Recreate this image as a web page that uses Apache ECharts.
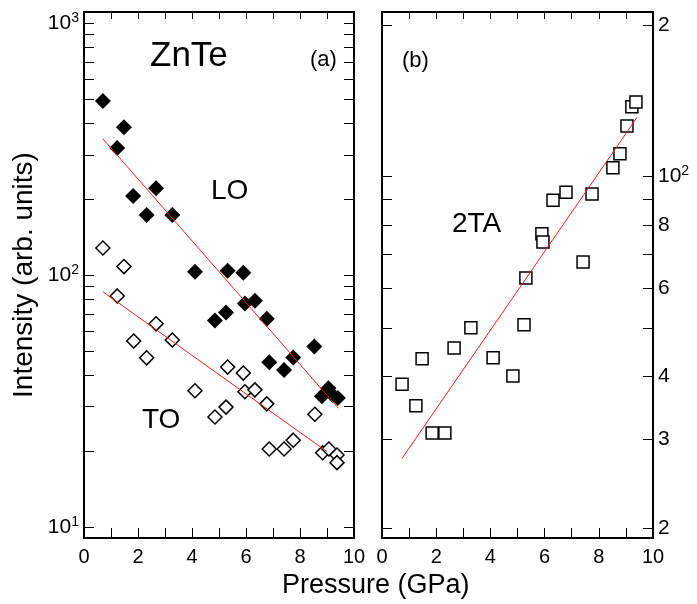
<!DOCTYPE html>
<html>
<head>
<meta charset="utf-8">
<script src="https://cdn.jsdelivr.net/npm/echarts@6/dist/echarts.min.js"></script>
<style>
html, body { margin: 0; padding: 0; background: #fff; }
#chart { width: 697px; height: 604px; }
</style>
</head>
<body>
<div id="chart"></div>
<script>
// ZnTe 拉曼强度 vs 压力
var loP = [0.70, 1.23, 1.48, 1.82, 2.32, 2.67, 3.27, 4.11, 4.85, 5.26, 5.32, 5.90, 5.96, 6.33, 6.77, 6.86, 7.41, 7.75, 8.53, 8.81, 9.05, 9.20, 9.40];
var loI = [490, 319, 386, 206, 173, 221, 173, 103, 66, 71, 104, 102, 77, 79, 67, 45, 42, 47, 52, 33, 35.5, 33.5, 32.5];

var toP = [0.70, 1.23, 1.48, 1.84, 2.32, 2.67, 3.27, 4.11, 4.85, 5.26, 5.32, 5.90, 5.96, 6.33, 6.77, 6.86, 7.41, 7.75, 8.55, 8.84, 9.07, 9.37, 9.37];
var toI = [128, 82.6, 108, 54.7, 46.9, 64, 55.2, 34.7, 27.3, 29.9, 43.1, 40.8, 34.4, 35.0, 30.8, 20.4, 20.4, 22.1, 28, 19.7, 20.4, 19.3, 18.0];

var taP = [0.74, 1.25, 1.48, 1.85, 2.32, 2.66, 3.28, 4.10, 4.83, 5.24, 5.31, 5.90, 5.94, 6.31, 6.79, 7.42, 7.75, 8.52, 8.78, 9.04, 9.22, 9.37];
var taI = [38.6, 35.0, 43.4, 30.9, 30.9, 45.6, 50.0, 43.6, 40.1, 50.7, 62.8, 76.9, 74.1, 89.7, 93, 67.6, 92.3, 104, 111, 125.9, 137.5, 140.6];

// 拟合直线
var loFitP = [0.70, 9.42];
var loFitI = [347, 29.6];
var toFitP = [0.70, 9.00];
var toFitI = [85.8, 19.9];
var taFitP = [0.74, 9.41];
var taFitI = [27.5, 131];

// 刻度
var xLabels = [0, 2, 4, 6, 8, 10];
var xTicks = [1, 2, 3, 4, 5, 6, 7, 8, 9];
var leftLabels = [10, 100, 1000];
var leftTicks = [10, 20, 30, 40, 50, 60, 70, 80, 90, 100, 200, 300, 400, 500, 600, 700, 800, 900, 1000];
var rightLabels = [20, 30, 40, 60, 80, 100, 200];
var rightTicks = [20, 30, 40, 50, 60, 70, 80, 90, 100, 200];

var FONT = 'Liberation Sans';

function pairs(xs, ys) {
    return xs.map(function (x, i) { return [x, ys[i]]; });
}

var richSup = {
    b: { fontSize: 21, fontFamily: FONT, color: '#000' },
    s: { fontSize: 14, fontFamily: FONT, color: '#000', padding: [0, 0, 10, 0] }
};

function xAxisOf(grid, top) {
    return {
        type: 'value',
        gridIndex: grid,
        position: top ? 'top' : 'bottom',
        min: 0,
        max: 10,
        splitLine: { show: false },
        axisLine: { show: true, onZero: false, lineStyle: { color: '#000', width: 2 } },
        axisTick: { show: true, inside: true, length: top ? 7 : 10, customValues: xTicks,
            lineStyle: { color: '#000', width: 1 } },
        axisLabel: { show: !top, customValues: xLabels, margin: 9, fontSize: 20, fontFamily: FONT, color: '#000' }
    };
}

function yAxisOf(grid, pos, lo, hi, ticks, labels, fmt) {
    return {
        type: 'log',
        gridIndex: grid,
        position: pos,
        min: lo,
        max: hi,
        splitLine: { show: false },
        axisLine: { show: true, onZero: false, lineStyle: { color: '#000', width: 2 } },
        axisTick: { show: true, inside: true, length: 10, customValues: ticks,
            lineStyle: { color: '#000', width: 1 } },
        axisLabel: { show: !!labels, customValues: labels || [], margin: 5, formatter: fmt,
            fontSize: 21, fontFamily: FONT, color: '#000', rich: richSup }
    };
}

var leftFmt = function (v) {
    return '{b|10}{s|' + Math.round(Math.log10(v)) + '}';
};
var rightFmt = function (v) {
    if (Math.abs(v - 100) < 1e-6) return '{b|10}{s|2}';
    if (v > 100) return '{b|' + Math.round(v / 100) + '}';
    return '{b|' + Math.round(v / 10) + '}';
};

var chart = echarts.init(document.getElementById('chart'));

var leftY = yAxisOf(0, 'left', 9.04, 1106, leftTicks, leftLabels, leftFmt);
leftY.name = 'Intensity (arb. units)';
leftY.nameLocation = 'middle';
leftY.nameRotate = 90;
leftY.nameGap = 46;
leftY.nameTextStyle = { fontSize: 28, fontFamily: FONT, color: '#000' };

var option = {
    animation: false,
    backgroundColor: '#fff',
    grid: [
        { left: 84, top: 12, width: 270, height: 526, containLabel: false, outerBoundsMode: 'none' },
        { left: 382, top: 12, width: 271, height: 526, containLabel: false, outerBoundsMode: 'none' }
    ],
    xAxis: [xAxisOf(0, false), xAxisOf(0, true), xAxisOf(1, false), xAxisOf(1, true)],
    yAxis: [
        leftY,
        yAxisOf(0, 'right', 9.04, 1106, leftTicks, null, null),
        yAxisOf(1, 'left', 19.1, 212.3, rightTicks, null, null),
        yAxisOf(1, 'right', 19.1, 212.3, rightTicks, rightLabels, rightFmt)
    ],
    graphic: [
        { type: 'text', left: 150, top: 39, style: { text: 'ZnTe', fontSize: 35, fontFamily: FONT, fill: '#000' } },
        { type: 'text', left: 310, top: 49, style: { text: '(a)', fontSize: 22, fontFamily: FONT, fill: '#000' } },
        { type: 'text', left: 211, top: 177, style: { text: 'LO', fontSize: 28, fontFamily: FONT, fill: '#000' } },
        { type: 'text', left: 142, top: 406, style: { text: 'TO', fontSize: 28, fontFamily: FONT, fill: '#000' } },
        { type: 'text', left: 402, top: 50, style: { text: '(b)', fontSize: 22, fontFamily: FONT, fill: '#000' } },
        { type: 'text', left: 452, top: 210, style: { text: '2TA', fontSize: 28, fontFamily: FONT, fill: '#000' } },
        { type: 'text', left: 282, top: 572, style: { text: 'Pressure (GPa)', fontSize: 27, fontFamily: FONT, fill: '#000' } }
    ],
    series: [
        {
            name: 'LO fit', type: 'line', xAxisIndex: 0, yAxisIndex: 0,
            data: pairs(loFitP, loFitI), symbol: 'none', silent: true,
            lineStyle: { color: '#e8201c', width: 1 }
        },
        {
            name: 'TO fit', type: 'line', xAxisIndex: 0, yAxisIndex: 0,
            data: pairs(toFitP, toFitI), symbol: 'none', silent: true,
            lineStyle: { color: '#e8201c', width: 1 }
        },
        {
            name: 'LO', type: 'scatter', xAxisIndex: 0, yAxisIndex: 0,
            data: pairs(loP, loI), symbol: 'diamond', symbolSize: 16,
            itemStyle: { color: '#000', opacity: 1 }
        },
        {
            name: 'TO', type: 'scatter', xAxisIndex: 0, yAxisIndex: 0,
            data: pairs(toP, toI), symbol: 'diamond', symbolSize: 14,
            itemStyle: { color: '#fff', borderColor: '#000', borderWidth: 1.5, opacity: 1 }
        },
        {
            name: '2TA fit', type: 'line', xAxisIndex: 2, yAxisIndex: 2,
            data: pairs(taFitP, taFitI), symbol: 'none', silent: true,
            lineStyle: { color: '#e8201c', width: 1 }
        },
        {
            name: '2TA', type: 'scatter', xAxisIndex: 2, yAxisIndex: 2,
            data: pairs(taP, taI), symbol: 'rect', symbolSize: 12,
            itemStyle: { color: '#fff', borderColor: '#000', borderWidth: 1.5, opacity: 1 }
        }
    ]
};

chart.setOption(option);

window.onresize = function () {
    chart.resize();
};
</script>
</body>
</html>
